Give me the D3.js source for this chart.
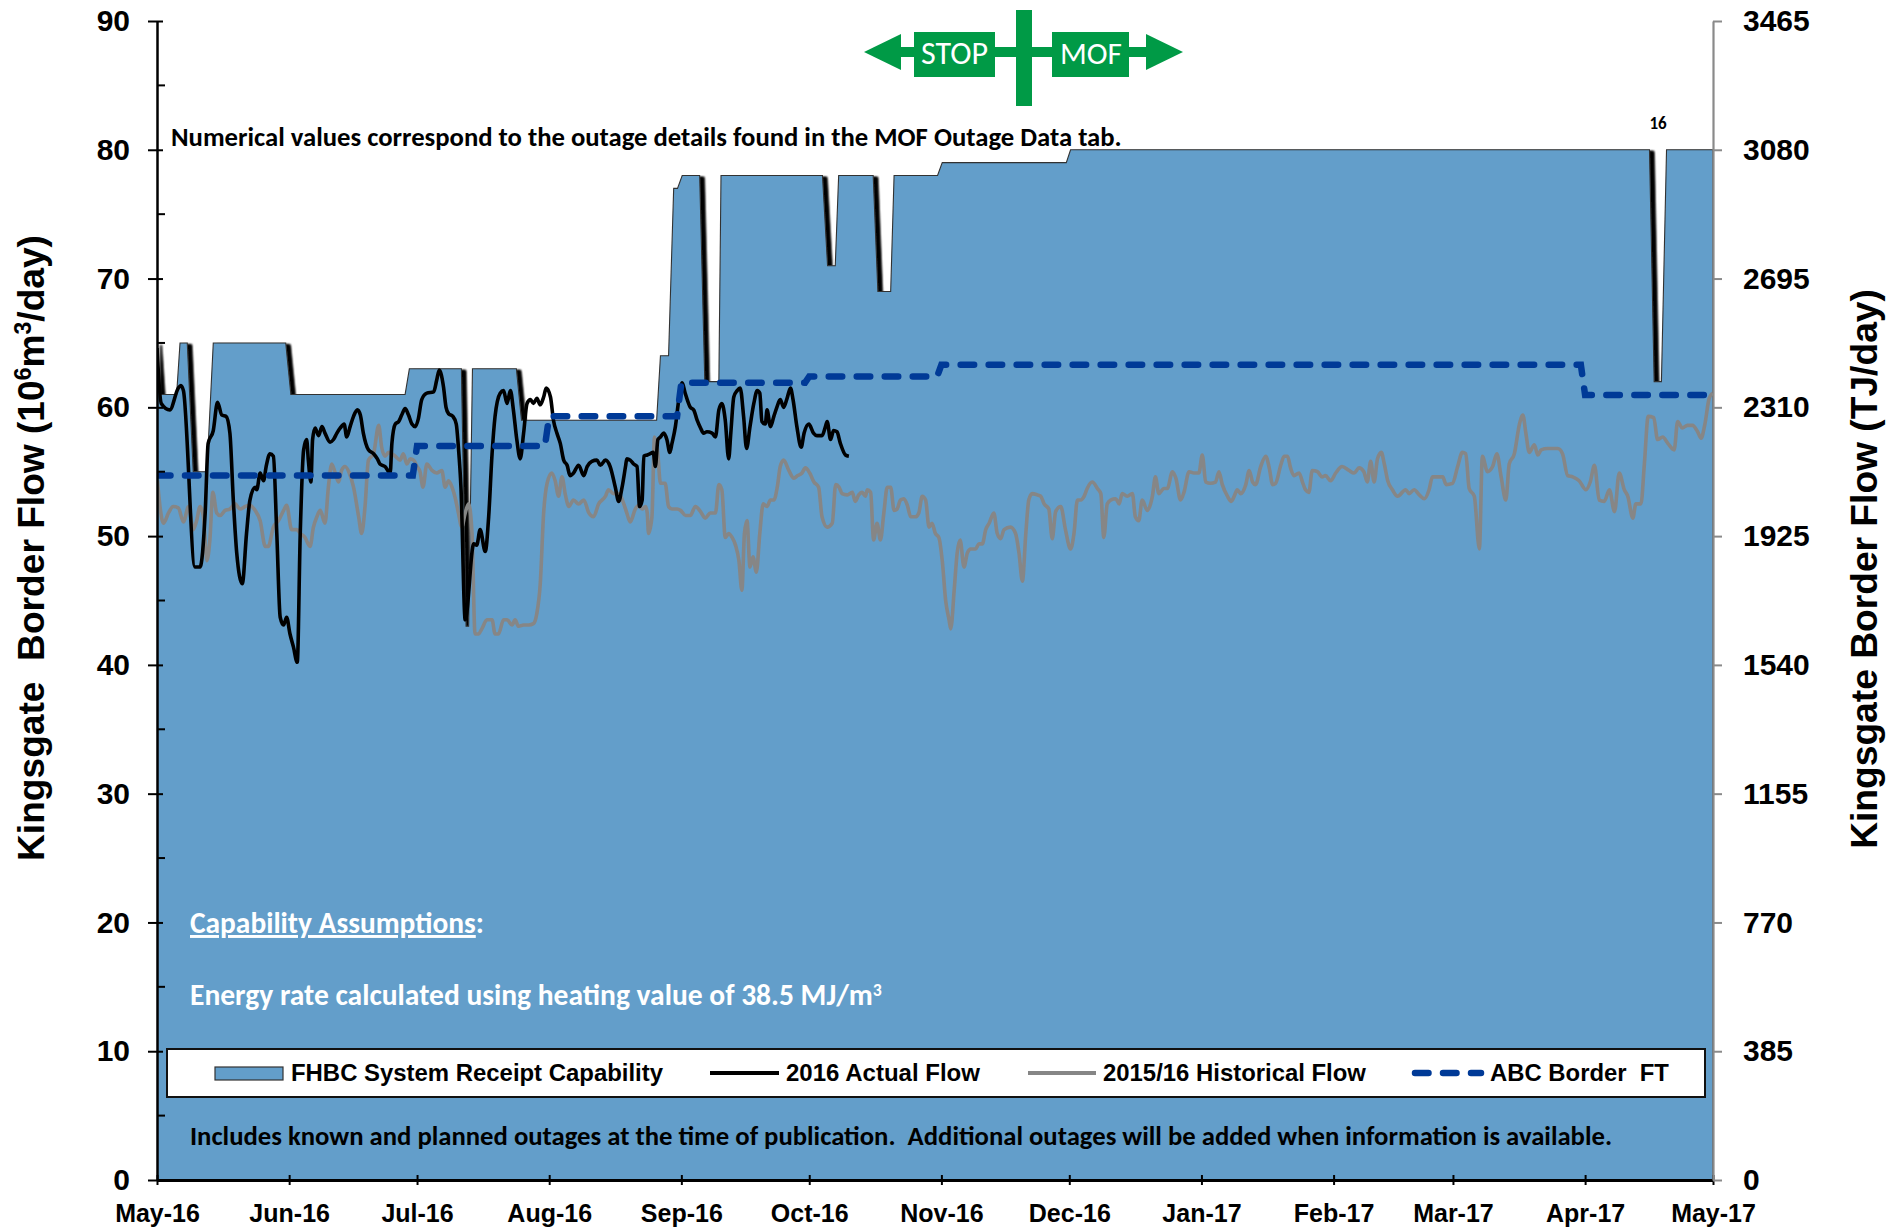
<!DOCTYPE html>
<html><head><meta charset="utf-8">
<script src="https://cdn.jsdelivr.net/npm/d3@7"></script>
<style>body{margin:0;background:#fff} svg{display:block}</style>
</head><body>
<svg id="c" width="1888" height="1230"></svg>
<script>
// ---------------- DATA ----------------
const monthLabels = ["May-16","Jun-16","Jul-16","Aug-16","Sep-16","Oct-16","Nov-16","Dec-16","Jan-17","Feb-17","Mar-17","Apr-17","May-17"];
const leftTicks = [0,10,20,30,40,50,60,70,80,90];
const leftMinorTicks = [5,15,25,35,45,55,65,75,85];
const rightTicks = [0,385,770,1155,1540,1925,2310,2695,3080,3465];

// [days since 1 May 2016, 10^6 m3/day]
const capability = [[0,65],[0.8,61],[4.6,61],[5.4,65],[7.1,65],[8.5,55],[11.7,55],[13.2,65],[30.2,65],[31.4,61],[58.2,61],[59.2,63],[71.4,63],[72.5,43],[73.1,43],[74.0,63],[84.3,63],[85.5,59],[117.2,59],[118.1,64],[120.0,64],[121.2,77],[122.1,77],[123.2,78],[127.3,78],[128.5,62],[131.8,62],[132.3,78],[156.1,78],[157.3,71],[159.1,71],[159.9,78],[168.0,78],[169.1,69],[172.1,69],[172.9,78],[183.1,78],[184.2,79],[213.3,79],[214.3,80],[350.1,80],[351.2,62],[352.9,62],[354.1,80],[365,80]];

const actualFlow = [[0,64.6],[1,60.3],[3,59.8],[5,61.5],[5.6,61.7],[6.2,61.3],[8.9,47.6],[10.1,47.6],[11.3,51.8],[12,57.2],[13.2,58.2],[14.2,60.4],[15.2,59.4],[16.2,59.3],[17.1,58.0],[17.9,52.8],[18.7,48.7],[20,46.3],[21,50.2],[21.8,52.8],[23,53.8],[23.4,53.6],[24.2,54.9],[25,54.3],[25.6,55.4],[26.5,56.4],[27.3,56.2],[28.1,50.2],[28.9,43.7],[29.7,43.1],[30.4,43.7],[31.2,42.4],[32,41.4],[32.9,40.2],[33.6,50.2],[34.4,56.7],[35.1,57.5],[35.5,55.9],[36.1,54.2],[36.5,57.5],[37.1,58.4],[37.9,57.8],[38.7,58.5],[39.4,58.0],[40.6,57.3],[41.4,57.5],[42.2,58.0],[43,58.4],[43.9,58.7],[44.5,57.7],[45.3,58.5],[46.1,59.3],[47,59.8],[47.7,59.4],[48.4,58.0],[49.6,56.7],[50.8,56.4],[51.7,56.0],[52.3,55.6],[53.5,55.4],[54.7,54.9],[55.1,57.2],[55.9,58.7],[56.7,58.9],[57.4,59.4],[58.2,59.9],[59,59.4],[59.8,58.7],[60.6,58.5],[61.3,59.1],[62.1,60.6],[63.3,61.1],[64.9,61.2],[65.6,62.1],[66.2,62.9],[67.2,61.6],[67.8,60.0],[68.4,59.5],[69.4,59.3],[70.2,58.7],[70.7,56.9],[71.3,53.8],[72.3,43.5],[74.3,49.4],[75,49.3],[75.8,50.5],[77,48.8],[77.8,51.5],[78.6,56.4],[79.3,59.3],[80.5,61.1],[81.3,61.3],[82.1,60.3],[82.9,61.3],[83.6,59.8],[84.4,57.5],[85.2,56.0],[86,58.0],[86.8,60.3],[87.6,60.6],[88.3,60.3],[89.1,60.7],[89.9,60.2],[90.7,60.8],[91.3,61.5],[92.3,60.8],[93,59.0],[93.8,58.0],[94.6,57.2],[95.4,55.9],[96.2,55.5],[96.9,54.7],[97.7,54.9],[98.9,55.5],[100.1,54.7],[100.9,55.4],[102,55.8],[103.2,55.9],[104,55.5],[105.2,55.9],[106.3,55.4],[107.5,53.8],[108.3,52.7],[109.1,53.8],[109.9,55.4],[110.2,56.0],[111,55.9],[111.8,55.6],[112.6,55.4],[113.2,52.3],[113.8,52.8],[114.2,56.2],[115,56.3],[115.7,56.4],[116.4,56.5],[116.9,55.4],[117.5,57.5],[118.1,57.7],[118.9,58.0],[119.6,57.5],[120.3,56.5],[120.8,57.2],[121.6,58.5],[122.4,60.6],[123.2,61.9],[123.9,61.1],[125.1,60.0],[125.9,59.8],[126.7,59.0],[127.5,58.4],[128.2,58.0],[129,58.1],[130.2,58.0],[131,57.7],[131.8,59.8],[132.5,60.3],[133.3,59.0],[134.1,56.0],[134.6,58.0],[135.3,60.8],[136.1,61.3],[136.8,61.5],[137.6,59.3],[138.3,56.8],[139.1,58.5],[140,60.3],[140.8,61.3],[141.4,61.1],[141.9,58.9],[142.7,58.7],[143.1,59.8],[143.9,58.5],[144.7,59.3],[145.4,60.0],[146.2,60.6],[147,60.0],[147.8,60.7],[148.6,61.5],[149.2,60.6],[150.1,58.5],[151.1,56.9],[151.8,58.0],[152.9,58.7],[154,58.0],[154.8,57.8],[156,57.8],[156.8,58.5],[157.2,58.9],[158,57.5],[158.7,58.2],[159.5,58.1],[160.3,57.2],[161.5,56.3],[162.3,56.2]];

const historicalFlow = [[0.1,54.3],[0.7,52.3],[1.5,51.0],[2.7,51.8],[3.8,52.3],[5.0,52.2],[6.2,51.1],[7.4,52.3],[8.5,50.5],[9.3,51.2],[10.1,52.3],[10.9,51.5],[11.7,48.1],[12.4,49.7],[13.1,53.4],[14.0,51.8],[14.8,51.6],[16.0,52.0],[17.1,52.1],[18.3,52.5],[19.5,52.1],[20.7,52.3],[21.8,52.4],[23.0,52.0],[24.2,51.2],[25.4,49.2],[26.1,49.2],[27.3,50.7],[28.5,51.2],[29.7,52.0],[30.4,52.4],[31.6,50.5],[32.8,50.5],[33.6,50.2],[34.7,49.9],[35.9,49.2],[36.7,50.7],[37.5,51.5],[38.3,52.0],[39.4,51.0],[40.2,53.8],[41.0,55.6],[41.8,54.9],[42.6,54.2],[43.3,55.1],[44.1,55.4],[45.1,54.9],[46.1,53.8],[47.3,51.5],[48.0,50.2],[48.8,52.3],[49.6,55.9],[50.8,56.4],[52.0,58.6],[52.7,56.9],[53.5,56.2],[54.3,56.5],[55.1,56.4],[55.9,56.2],[57.0,55.9],[57.8,56.4],[58.6,55.6],[59.4,56.0],[60.2,55.9],[61.0,55.4],[61.7,55.0],[62.4,53.8],[63.3,55.6],[64.5,55.1],[65.6,54.9],[66.8,55.1],[67.6,53.8],[68.4,54.3],[69.2,53.8],[70.0,52.9],[70.7,51.8],[71.5,50.7],[72.3,51.8],[73.1,52.5],[73.9,50.2],[74.6,42.4],[75.4,42.4],[76.2,42.8],[77.4,43.5],[78.6,43.5],[79.3,42.4],[80.1,42.4],[81.3,43.5],[82.1,43.5],[83.3,43.1],[84.0,43.5],[84.8,43.0],[86.0,43.1],[87.2,43.1],[88.3,43.2],[89.1,44.0],[89.9,46.3],[90.7,51.8],[91.5,54.1],[92.6,54.9],[93.4,54.3],[94.2,53.1],[95.0,54.6],[95.8,53.2],[96.6,52.3],[97.7,52.8],[98.9,52.5],[100.1,52.8],[101.3,51.8],[102.4,51.5],[103.6,52.5],[105.2,53.1],[105.9,53.6],[107.1,53.3],[108.3,53.3],[109.5,52.5],[110.2,51.8],[111.0,51.1],[112.2,52.1],[113.0,52.4],[113.8,52.1],[114.6,52.3],[115.0,51.8],[115.3,50.2],[116.1,51.5],[116.7,57.7],[117.4,56.7],[118.1,54.1],[119.2,54.1],[120.0,52.3],[120.8,52.1],[122.0,52.1],[122.8,52.0],[124.0,51.6],[125.1,51.6],[126.3,52.3],[127.5,51.9],[128.6,51.4],[129.8,51.8],[131.0,51.8],[131.8,54.0],[132.5,53.6],[133.3,49.9],[134.1,50.2],[134.9,49.9],[135.7,49.3],[136.5,48.1],[137.2,45.8],[137.8,50.2],[138.4,51.2],[139.1,47.6],[139.8,48.4],[140.6,47.2],[141.4,50.2],[142.2,52.5],[143.1,52.3],[143.9,52.8],[144.7,52.8],[145.5,53.8],[146.2,55.4],[147.0,55.9],[148.2,55.1],[149.4,54.5],[150.3,54.7],[151.3,54.9],[152.1,55.3],[153.1,54.9],[154.1,54.2],[155.2,53.8],[156.0,51.5],[157.2,50.7],[158.4,51.0],[159.2,54.0],[160.0,53.8],[160.7,53.3],[161.9,53.2],[163.1,53.4],[163.8,52.7],[164.6,53.2],[165.4,53.4],[166.2,53.1],[166.6,53.6],[167.4,53.4],[168.1,49.7],[168.9,51.0],[169.7,49.7],[170.5,51.8],[171.3,53.8],[172.1,53.8],[172.9,52.0],[173.6,52.1],[174.4,52.8],[175.2,52.9],[176.0,52.4],[176.8,51.5],[177.9,51.5],[178.7,51.8],[179.5,53.1],[180.3,52.8],[181.1,50.7],[181.8,51.0],[182.6,50.2],[183.4,49.9],[184.2,48.1],[185.0,45.0],[185.8,43.5],[186.2,42.8],[187.0,45.8],[187.7,48.7],[188.4,49.7],[189.3,47.6],[190.1,48.7],[190.9,49.0],[192.0,49.0],[192.8,49.4],[193.6,49.4],[194.4,50.5],[195.2,51.0],[196.3,51.8],[197.1,50.2],[197.9,49.8],[198.7,50.5],[200.2,50.7],[201.4,50.2],[202.2,48.7],[203.0,46.5],[203.8,50.2],[204.5,52.8],[205.3,53.3],[206.5,53.2],[207.3,53.1],[208.1,52.5],[209.2,52.1],[210.0,49.8],[210.8,51.9],[212.0,52.3],[213.1,50.5],[214.3,49.0],[215.1,50.2],[215.9,52.8],[216.7,52.8],[217.5,53.1],[218.2,53.7],[219.4,54.2],[220.6,53.7],[221.4,53.3],[222.1,49.9],[222.9,52.5],[223.7,52.8],[224.9,52.9],[225.7,52.5],[226.4,53.3],[227.6,53.1],[228.8,53.3],[229.5,51.5],[230.3,51.2],[231.1,52.8],[232.3,52.0],[233.5,53.1],[234.2,54.6],[235.0,53.3],[236.2,53.7],[237.0,53.7],[238.2,55.0],[239.0,54.5],[240.1,52.8],[240.9,53.4],[242.1,55.0],[243.3,54.9],[244.4,54.9],[245.2,56.3],[246.0,54.2],[247.1,54.1],[248.3,54.2],[249.1,55.0],[249.9,54.0],[251.1,53.1],[252.0,52.7],[252.7,53.1],[253.4,53.6],[254.2,53.3],[255.4,54.0],[256.2,55.1],[257.0,54.2],[257.7,54.0],[258.9,55.4],[260.1,56.2],[260.9,55.3],[261.7,54.0],[262.4,54.1],[263.6,55.5],[264.4,56.2],[265.2,56.2],[265.9,55.3],[266.7,54.7],[267.9,54.9],[268.7,54.2],[269.4,53.6],[270.2,53.4],[271.0,55.1],[272.2,55.0],[273.3,54.6],[274.1,54.7],[275.3,54.3],[276.5,54.9],[278.0,55.4],[279.6,55.1],[280.8,54.9],[282.0,55.3],[283.1,55.0],[283.9,54.2],[284.7,55.8],[285.5,54.2],[286.3,56.0],[287.2,56.5],[287.9,55.6],[288.7,54.3],[289.8,53.6],[291.0,53.1],[292.9,53.6],[293.7,53.3],[294.9,53.6],[296.1,53.2],[297.3,52.9],[298.4,53.6],[299.2,54.6],[300.4,54.6],[301.6,54.6],[302.4,54.0],[303.9,54.1],[305.1,55.4],[306.2,56.5],[307.0,56.4],[307.8,53.7],[309.0,53.1],[310.2,49.0],[310.9,56.2],[312.1,55.0],[313.3,55.4],[314.3,56.4],[315.3,54.6],[316.4,52.8],[317.2,55.6],[318.4,56.4],[319.6,58.7],[320.4,59.4],[321.1,58.0],[321.9,56.5],[323.1,57.1],[323.9,56.3],[324.7,56.7],[326.2,56.8],[328.6,56.8],[329.7,56.4],[330.9,54.7],[332.1,54.6],[333.6,54.3],[335.2,53.6],[336.2,54.2],[337.2,55.5],[338.3,52.8],[339.5,52.7],[340.7,53.6],[341.9,51.9],[343.0,54.9],[344.2,53.6],[345.0,53.1],[346.2,51.4],[346.9,52.5],[348.1,52.5],[348.9,55.6],[349.8,59.3],[351.1,59.2],[352.0,57.5],[353.2,57.7],[354.4,57.2],[355.9,56.7],[356.7,58.9],[357.8,58.4],[359.0,58.6],[360.2,58.6],[361.4,58.1],[362.2,57.6],[363.1,58.7],[364.1,60.7],[364.9,61.1]];

const borderFT = [[0,54.7],[60,54.7],[61,57.0],[91,57.0],[92,59.3],[122,59.3],[123,61.9],[152,61.9],[153,62.4],[183,62.4],[184,63.3],[334,63.3],[335,60.95],[365,60.95]];

const outageLabels = [[352.1,"16"]];
const legendItems = ["FHBC System Receipt Capability","2016 Actual Flow","2015/16 Historical Flow","ABC Border  FT"];

// ---------------- LAYOUT ----------------
const M = {left:157, right:1713, top:21, bottom:1180};
const AREA = "#639ECA", GRAY = "#868686", BLUE = "#003A97", GREEN = "#009A46";
const ARIAL = "'Liberation Sans', Arial, sans-serif";
const CAL = "Carlito, Calibri, Lato, sans-serif";

const base = Date.UTC(2016,4,1);
const toDate = d => new Date(base + d*864e5);
const x = d3.scaleUtc().domain([toDate(0), toDate(365)]).range([M.left, M.right]);
const y = d3.scaleLinear().domain([0,90]).range([M.bottom, M.top]);
const y2 = d3.scaleLinear().domain([0,3465]).range([M.bottom, M.top]);

const svg = d3.select("#c");
const defs = svg.append("defs");
defs.append("clipPath").attr("id","plotClip").append("rect")
  .attr("x",M.left).attr("y",0).attr("width",M.right-M.left).attr("height",M.bottom);
const flt = defs.append("filter").attr("id","shadow")
  .attr("x","-2%").attr("y","-2%").attr("width","104%").attr("height","104%");
flt.append("feGaussianBlur").attr("in","SourceAlpha").attr("stdDeviation",1.3).attr("result","b");
flt.append("feOffset").attr("in","b").attr("dx",4).attr("dy",2).attr("result","o");
const mg = flt.append("feMerge");
mg.append("feMergeNode").attr("in","o");
mg.append("feMergeNode").attr("in","o");
mg.append("feMergeNode").attr("in","SourceGraphic");

function fit(sel, w){
  const l = sel.node().getComputedTextLength();
  const fs = parseFloat(sel.attr("font-size"));
  sel.attr("font-size", (fs*w/l).toFixed(2));
  return sel;
}

// ---------------- SERIES ----------------
const plot = svg.append("g").attr("clip-path","url(#plotClip)");
const px = d => x(toDate(d[0]));
plot.append("path").datum(capability)
  .attr("d", d3.area().x(px).y0(y(0)).y1(d=>y(d[1])))
  .attr("fill",AREA).attr("stroke","#333").attr("stroke-width",1.1)
  .attr("filter","url(#shadow)");
plot.append("path").datum(historicalFlow)
  .attr("d", d3.line().x(px).y(d=>y(d[1])).curve(d3.curveMonotoneX))
  .attr("fill","none").attr("stroke",GRAY).attr("stroke-width",3.6).attr("stroke-linejoin","round");
plot.append("path").datum(actualFlow)
  .attr("d", d3.line().x(px).y(d=>y(d[1])).curve(d3.curveMonotoneX))
  .attr("fill","none").attr("stroke","#000").attr("stroke-width",3.6).attr("stroke-linejoin","round");
plot.append("path").datum(borderFT)
  .attr("d", d3.line().x(px).y(d=>y(d[1])))
  .attr("fill","none").attr("stroke",BLUE).attr("stroke-width",6.5)
  .attr("stroke-linecap","round").attr("stroke-dasharray","13.5,14.5");

// outage label
svg.selectAll(".olab").data(outageLabels).join("text").attr("class","olab")
  .attr("x",d=>x(toDate(d[0]))).attr("y",129).attr("text-anchor","middle")
  .attr("font-family",CAL).attr("font-weight","bold").attr("font-size",17).text(d=>d[1]);

// ---------------- AXES ----------------
const gx = svg.append("g").attr("transform",`translate(0,${M.bottom})`)
  .call(d3.axisBottom(x).tickValues(d3.utcMonth.range(toDate(0), toDate(366)))
    .tickFormat((d,i)=>monthLabels[i]).tickSize(6).tickPadding(18).tickSizeOuter(0));
gx.select(".domain").attr("stroke","#000").attr("stroke-width",3);
gx.selectAll(".tick line").attr("y1",-5).attr("y2",5).attr("stroke","#000").attr("stroke-width",2);
gx.selectAll(".tick text").attr("font-family",ARIAL).attr("font-weight","bold").attr("font-size",25).attr("fill","#000");

const gl = svg.append("g").attr("transform",`translate(${M.left},0)`)
  .call(d3.axisLeft(y).tickValues(leftTicks).tickFormat(d3.format("d")).tickSize(9).tickPadding(18).tickSizeOuter(0));
gl.select(".domain").attr("stroke","#000").attr("stroke-width",2.5);
gl.selectAll(".tick line").attr("x1",6).attr("x2",-9).attr("stroke","#000").attr("stroke-width",2);
gl.selectAll(".tick text").attr("font-family",ARIAL).attr("font-weight","bold").attr("font-size",30).attr("fill","#000");
gl.selectAll(".minor").data(leftMinorTicks).join("line").attr("class","minor")
  .attr("x1",0).attr("x2",8).attr("y1",d=>y(d)).attr("y2",d=>y(d)).attr("stroke","#000").attr("stroke-width",2);

const gr = svg.append("g").attr("transform",`translate(${M.right},0)`)
  .call(d3.axisRight(y2).tickValues(rightTicks).tickFormat(d3.format("d")).tickSize(9).tickPadding(21).tickSizeOuter(0));
gr.select(".domain").attr("stroke","#8a8a8a").attr("stroke-width",2.2);
gr.selectAll(".tick line").attr("stroke","#8a8a8a").attr("stroke-width",2);
gr.selectAll(".tick text").attr("font-family",ARIAL).attr("font-weight","bold").attr("font-size",30).attr("fill","#000");

// axis titles
const lt = svg.append("text").attr("transform","translate(44,548) rotate(-90)").attr("text-anchor","middle")
  .attr("font-family",ARIAL).attr("font-weight","bold").attr("font-size",37).style("white-space","pre");
lt.append("tspan").text("Kingsgate  Border Flow (10");
lt.append("tspan").attr("dy",-13).attr("font-size","0.62em").text("6");
lt.append("tspan").attr("dy",13).text("m");
lt.append("tspan").attr("dy",-13).attr("font-size","0.62em").text("3");
lt.append("tspan").attr("dy",13).text("/day)");
fit(lt, 626);
const rt = svg.append("text").attr("transform","translate(1877,569) rotate(-90)").attr("text-anchor","middle")
  .attr("font-family",ARIAL).attr("font-weight","bold").attr("font-size",37).text("Kingsgate Border Flow (TJ/day)");
fit(rt, 560);

// ---------------- NOTES ----------------
fit(svg.append("text").attr("x",171).attr("y",146).attr("font-family",CAL).attr("font-weight","bold")
  .attr("font-size",22).attr("fill","#000")
  .text("Numerical values correspond to the outage details found in the MOF Outage Data tab."), 951);

const ca = svg.append("text").attr("x",190).attr("y",933).attr("font-family",CAL).attr("font-weight","bold")
  .attr("font-size",24).attr("fill","#fff");
ca.append("tspan").style("text-decoration","underline").text("Capability Assumptions");
ca.append("tspan").text(":");
fit(ca, 294);

const er = svg.append("text").attr("x",190).attr("y",1005).attr("font-family",CAL).attr("font-weight","bold")
  .attr("font-size",24).attr("fill","#fff");
er.append("tspan").text("Energy rate calculated using heating value of 38.5 MJ/m");
er.append("tspan").attr("dy",-9).attr("font-size","0.6em").text("3");
fit(er, 692);

fit(svg.append("text").attr("x",190).attr("y",1145).attr("font-family",CAL).attr("font-weight","bold")
  .attr("font-size",22).attr("fill","#000").style("white-space","pre")
  .text("Includes known and planned outages at the time of publication.  Additional outages will be added when information is available."), 1422);

// ---------------- LEGEND ----------------
const lg = svg.append("g");
lg.append("rect").attr("x",167).attr("y",1049).attr("width",1538).attr("height",48)
  .attr("fill","#fff").attr("stroke","#111").attr("stroke-width",2);
lg.append("rect").attr("x",215).attr("y",1067).attr("width",68).attr("height",13)
  .attr("fill",AREA).attr("stroke","#333").attr("stroke-width",1.2);
lg.append("line").attr("x1",710).attr("x2",779).attr("y1",1073).attr("y2",1073).attr("stroke","#000").attr("stroke-width",4);
lg.append("line").attr("x1",1028).attr("x2",1096).attr("y1",1073).attr("y2",1073).attr("stroke",GRAY).attr("stroke-width",4);
lg.append("line").attr("x1",1415).attr("x2",1481).attr("y1",1073).attr("y2",1073).attr("stroke",BLUE).attr("stroke-width",6.5)
  .attr("stroke-linecap","round").attr("stroke-dasharray","13.5,14.5");
const legPos = [[291,372],[786,194],[1103,263],[1490,179]];
legendItems.forEach((t,i)=>{
  fit(lg.append("text").attr("x",legPos[i][0]).attr("y",1081).attr("font-family",ARIAL).attr("font-weight","bold")
    .attr("font-size",24).attr("fill","#000").style("white-space","pre").text(t), legPos[i][1]);
});

// ---------------- STOP / MOF sign ----------------
const sg = svg.append("g").attr("fill",GREEN);
sg.append("rect").attr("x",1016).attr("y",10).attr("width",16).attr("height",96);
sg.append("rect").attr("x",898).attr("y",47).attr("width",251).attr("height",10);
sg.append("path").attr("d","M864,52 L901,34 L901,70 Z");
sg.append("path").attr("d","M1183,52 L1146,34 L1146,70 Z");
sg.append("rect").attr("x",914).attr("y",32).attr("width",81).attr("height",45);
sg.append("rect").attr("x",1052).attr("y",32).attr("width",77).attr("height",45);
fit(svg.append("text").attr("x",921).attr("y",64).attr("font-family",CAL).attr("font-size",28).attr("fill","#fff").text("STOP"), 67);
fit(svg.append("text").attr("x",1060).attr("y",64).attr("font-family",CAL).attr("font-size",28).attr("fill","#fff").text("MOF"), 62);
</script>
</body></html>
